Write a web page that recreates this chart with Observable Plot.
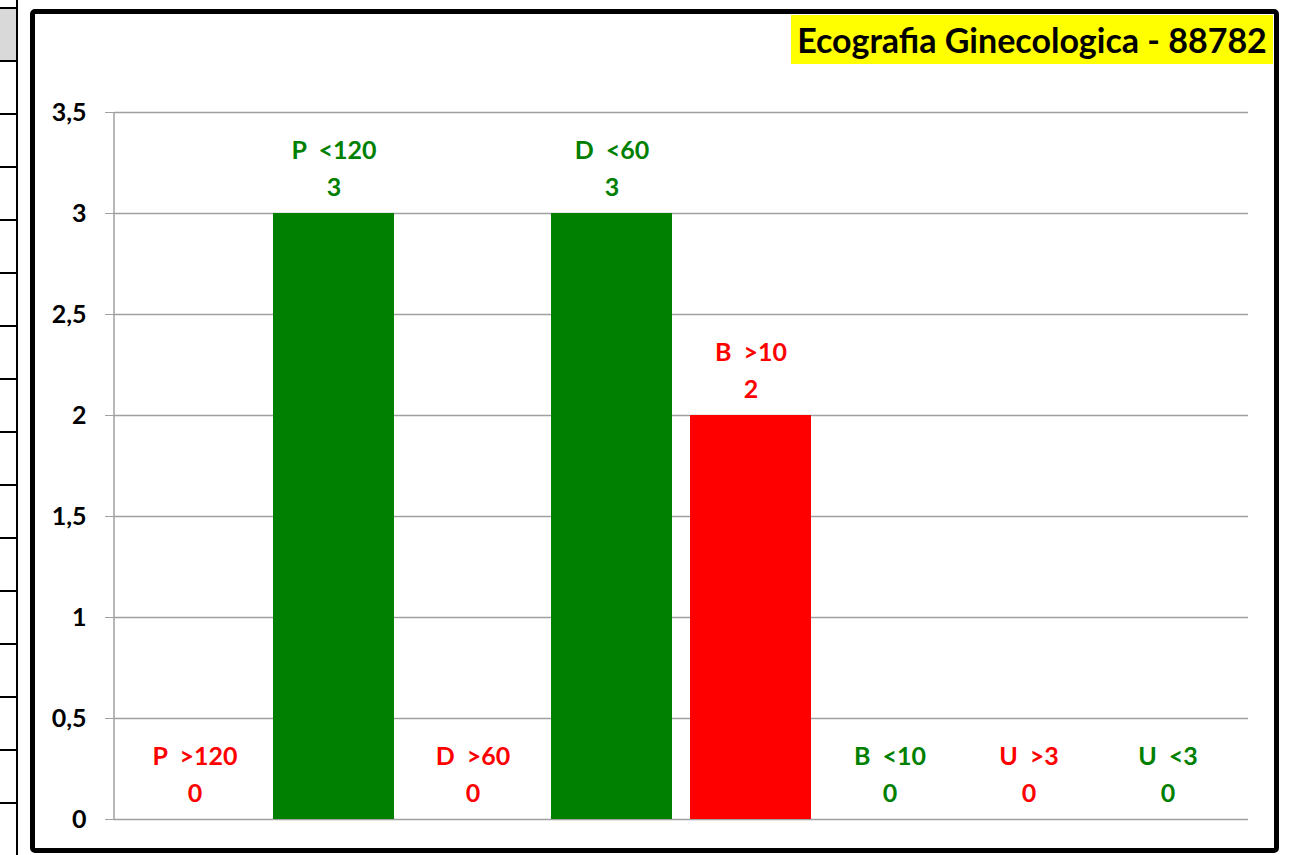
<!DOCTYPE html>
<html>
<head>
<meta charset="utf-8">
<script src="https://cdn.jsdelivr.net/npm/d3@7"></script>
<script src="https://cdn.jsdelivr.net/npm/@observablehq/plot@0.6"></script>
<style>
  html, body { margin: 0; padding: 0; background: #fff; }
  #wrap { position: relative; width: 1295px; height: 855px; overflow: hidden; background: #fff; font-family: Lato, "Open Sans", sans-serif; }
  #plot { position: absolute; left: 0; top: 0; }
  #plot svg text { white-space: pre; }
  .sheet-v { position: absolute; left: 16px; top: 0; width: 2px; height: 855px; background: #000; }
  .sheet-h { position: absolute; left: 0; width: 16px; height: 2px; background: #000; }
  .sheet-head { position: absolute; left: 0; top: 8px; width: 16px; height: 53px; background: #d9d9d9; }
  #border { position: absolute; left: 30px; top: 9px; width: 1249px; height: 844px; box-sizing: border-box; border: 5px solid #000; border-radius: 5px; pointer-events: none; }
  #title { position: absolute; left: 791px; top: 15px; width: 482px; height: 49px; background: #ffff00; color: #000; font-weight: bold; font-size: 34px; line-height: 49px; text-align: center; white-space: nowrap; }
</style>
</head>
<body>
<div id="wrap">
  <div class="sheet-head"></div>
  <div id="sheet"></div>
  <div class="sheet-v"></div>
  <div id="plot"></div>
  <div id="border"></div>
  <div id="title">Ecografia Ginecologica - 88782</div>
</div>
<script>
// ---- data ----
const categories = ["P  >120", "P  <120", "D  >60", "D  <60", "B  >10", "B  <10", "U  >3", "U  <3"];
const values = [0, 3, 0, 3, 2, 0, 0, 0];
const status = ["alto", "ok", "alto", "ok", "alto", "ok", "alto", "ok"];
const yTicks = [0, 0.5, 1, 1.5, 2, 2.5, 3, 3.5];
const statusDomain = ["alto", "ok"];
const statusColors = ["#ff0000", "#008000"];

const data = categories.map((c, i) => ({cat: c, value: values[i], status: status[i]}));

// spreadsheet row lines at left edge (decoration)
const sheet = document.getElementById("sheet");
for (let k = 0; k < 16; k++) {
  const d = document.createElement("div");
  d.className = "sheet-h";
  d.style.top = (7 + 53 * k) + "px";
  sheet.appendChild(d);
}

const axisLine = (index, scales, values, dim) => {
  const l = document.createElementNS("http://www.w3.org/2000/svg", "line");
  l.setAttribute("x1", dim.marginLeft);
  l.setAttribute("x2", dim.marginLeft);
  l.setAttribute("y1", scales.y(3.5));
  l.setAttribute("y2", scales.y(0));
  l.setAttribute("stroke", "#a0a0a0");
  l.setAttribute("stroke-width", 1.5);
  return l;
};

const chart = Plot.plot({
  width: 1295,
  height: 855,
  marginTop: 112,
  marginBottom: 36,
  marginLeft: 114,
  marginRight: 47,
  style: {fontFamily: "Lato, 'Open Sans', sans-serif", background: "transparent"},
  x: {domain: categories, axis: null, padding: 0, insetLeft: 8, insetRight: 9},
  y: {domain: [0, 3.5], axis: null, label: null},
  color: {domain: statusDomain, range: statusColors},
  marks: [
    Plot.gridY(yTicks, {stroke: "#a0a0a0", strokeOpacity: 1, strokeWidth: 1.5}),
    Plot.axisY(yTicks, {
      label: null,
      tickSize: 9, tickPadding: 19, stroke: "#a0a0a0", fill: "#000",
      fontSize: 25, fontWeight: "bold",
      tickFormat: d => String(d).replace(".", ",")
    }),
    axisLine,
    Plot.barY(data, {x: "cat", y: "value", fill: "status", insetLeft: 9, insetRight: 9}),
    Plot.text(data, {
      x: "cat", y: "value", fill: "status",
      text: d => `${d.cat}\n${d.value}`,
      lineAnchor: "bottom", lineHeight: 1.47, dy: -18,
      fontSize: 25, fontWeight: "bold"
    })
  ]
});
document.getElementById("plot").appendChild(chart);
</script>
</body>
</html>
